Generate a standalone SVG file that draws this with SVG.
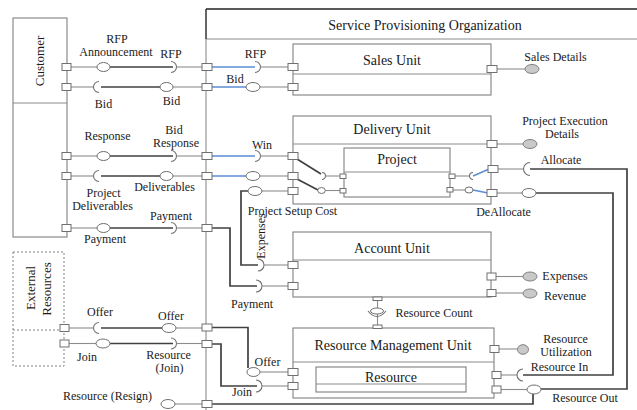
<svg xmlns="http://www.w3.org/2000/svg" width="637" height="410" viewBox="0 0 637 410" font-family="'Liberation Serif', 'Times New Roman', serif">
<defs>
<style>
.bx{fill:#fff;stroke:#808080;stroke-width:1.1}
.ln{fill:none;stroke:#8c8c8c;stroke-width:1.1}
.dk{fill:none;stroke:#404040;stroke-width:1.7}
.bl{fill:none;stroke:#5b8dd4;stroke-width:1.4}
.pt{fill:#fff;stroke:#707070;stroke-width:1}
.ball{fill:#fff;stroke:#707070;stroke-width:1}
.gb{fill:#c9c9c9;stroke:#808080;stroke-width:1}
.sk{fill:none;stroke:#707070;stroke-width:1.1}
.dash{fill:#fff;stroke:#808080;stroke-width:1;stroke-dasharray:2 2}
text{font-family:'Liberation Serif','Times New Roman',serif;fill:#1a1a1a}
.lb{font-size:12px;text-anchor:middle}
.un{font-size:14px;text-anchor:middle}
</style>
</defs>

<g id="organization">
<line x1="206" y1="9" x2="637" y2="9" stroke="#222" stroke-width="1.5"/>
<line x1="206" y1="39" x2="637" y2="39" class="ln"/>
<line x1="206" y1="9" x2="206" y2="39" stroke="#333" stroke-width="1.5"/>
<line x1="206" y1="39" x2="206" y2="410" class="ln"/>
<text x="425" y="30" class="un">Service Provisioning Organization</text>
</g>

<g id="customer">
<rect x="13" y="18" width="54" height="219" class="bx"/>
<line x1="13" y1="103" x2="67" y2="103" class="ln"/>
<text transform="translate(44,61) rotate(-90)" font-size="13" text-anchor="middle">Customer</text>
</g>

<g id="external-resources">
<rect x="13" y="252" width="51" height="114" class="dash"/>
<line x1="13" y1="330" x2="64" y2="330" class="dash"/>
<text transform="translate(35,288) rotate(-90)" font-size="13" text-anchor="middle">External</text>
<text transform="translate(51,289) rotate(-90)" font-size="13" text-anchor="middle">Resources</text>
</g>

<g id="sales-unit">
<rect x="293" y="44" width="198" height="51" class="bx"/>
<line x1="293" y1="74" x2="491" y2="74" class="ln"/>
<text x="392" y="65" class="un">Sales Unit</text>
</g>

<g id="delivery-unit">
<rect x="293" y="116" width="198" height="88" class="bx"/>
<line x1="293" y1="144" x2="491" y2="144" class="ln"/>
<text x="392" y="134" class="un">Delivery Unit</text>
</g>

<g id="project">
<rect x="344" y="148" width="106" height="49" class="bx"/>
<line x1="344" y1="172" x2="450" y2="172" class="ln"/>
<text x="397" y="164" class="un">Project</text>
</g>

<g id="account-unit">
<rect x="293" y="232" width="198" height="65" class="bx"/>
<line x1="293" y1="260" x2="491" y2="260" class="ln"/>
<text x="392" y="253" class="un">Account Unit</text>
</g>

<g id="resource-management-unit">
<rect x="293" y="328" width="201" height="70" class="bx"/>
<line x1="293" y1="362" x2="494" y2="362" class="ln"/>
<text x="393" y="350" class="un">Resource Management Unit</text>
</g>

<g id="resource">
<rect x="316" y="367" width="150" height="25" class="bx"/>
<line x1="316" y1="384" x2="466" y2="384" class="ln"/>
<text x="391" y="382" class="un">Resource</text>
</g>

<g id="connectors">
<line x1="71" y1="67" x2="97" y2="67" class="ln"/>
<line x1="110" y1="67" x2="173" y2="67" class="dk"/>
<path d="M171,61.5 A5.5,5.5 0 0 1 171,72.5" class="sk"/>
<line x1="176.5" y1="67" x2="202" y2="67" class="ln"/>
<line x1="212" y1="67" x2="255" y2="67" class="bl"/>
<path d="M255,61.5 A5.5,5.5 0 0 1 255,72.5" class="sk"/>
<line x1="260.5" y1="67" x2="288" y2="67" class="ln"/>
<line x1="71" y1="87" x2="93.5" y2="87" class="ln"/>
<path d="M99,81.5 A5.5,5.5 0 0 0 99,92.5" class="sk"/>
<line x1="101" y1="87" x2="160" y2="87" class="dk"/>
<line x1="173" y1="87" x2="202" y2="87" class="ln"/>
<line x1="212" y1="87" x2="246" y2="87" class="bl"/>
<line x1="260" y1="87" x2="288" y2="87" class="ln"/>
<line x1="71" y1="156" x2="97" y2="156" class="ln"/>
<line x1="110" y1="156" x2="173" y2="156" class="dk"/>
<path d="M171,150.5 A5.5,5.5 0 0 1 171,161.5" class="sk"/>
<line x1="176.5" y1="156" x2="202" y2="156" class="ln"/>
<line x1="212" y1="156" x2="255" y2="156" class="bl"/>
<path d="M255,150.5 A5.5,5.5 0 0 1 255,161.5" class="sk"/>
<line x1="260.5" y1="156" x2="288" y2="156" class="ln"/>
<line x1="71" y1="176" x2="93.5" y2="176" class="ln"/>
<path d="M99,170.5 A5.5,5.5 0 0 0 99,181.5" class="sk"/>
<line x1="101" y1="176" x2="160" y2="176" class="dk"/>
<line x1="173" y1="176" x2="202" y2="176" class="ln"/>
<line x1="212" y1="176" x2="246" y2="176" class="bl"/>
<line x1="260" y1="176" x2="288" y2="176" class="ln"/>
<line x1="71" y1="228" x2="97" y2="228" class="ln"/>
<line x1="110" y1="228" x2="173" y2="228" class="dk"/>
<path d="M171,222.5 A5.5,5.5 0 0 1 171,233.5" class="sk"/>
<line x1="176.5" y1="228" x2="202" y2="228" class="ln"/>
<polyline points="212,228 230,228 230,286 257,286" class="dk"/>
<path d="M256,280 A6,6 0 0 1 256,292" class="sk"/>
<line x1="262" y1="286" x2="288" y2="286" class="ln"/>
<polyline points="248,191 241,191 241,265 258,265" class="dk"/>
<path d="M258,259 A6,6 0 0 1 258,271" class="sk"/>
<line x1="264" y1="265" x2="288" y2="265" class="ln"/>
<line x1="262" y1="191" x2="288" y2="191" class="ln"/>
<line x1="297" y1="159" x2="321" y2="174" class="dk"/>
<path d="M322,172.5 A3.5,3.5 0 0 1 322,179.5" class="sk"/>
<line x1="325.5" y1="176" x2="340" y2="176" class="ln"/>
<line x1="297" y1="179" x2="318" y2="190" class="dk"/>
<line x1="325" y1="190.5" x2="340" y2="190.5" class="ln"/>
<line x1="455" y1="176" x2="469" y2="176" class="ln"/>
<path d="M473,172.5 A3.5,3.5 0 0 0 473,179.5" class="sk"/>
<line x1="473" y1="176" x2="488" y2="169.5" class="bl"/>
<line x1="453" y1="190" x2="465" y2="190" class="ln"/>
<line x1="473" y1="190" x2="488" y2="193" class="bl"/>
<line x1="497" y1="69" x2="525" y2="69" class="ln"/>
<line x1="497" y1="144" x2="523" y2="144" class="ln"/>
<line x1="497" y1="169" x2="524" y2="169" class="ln"/>
<path d="M530,162.5 A6.5,6.5 0 0 0 530,175.5" class="sk"/>
<polyline points="530,169 627,169 627,389 541,389" class="dk"/>
<line x1="497" y1="193" x2="522" y2="193" class="ln"/>
<polyline points="536,193 613,193 613,375 523,375" class="dk"/>
<line x1="496" y1="276.5" x2="523" y2="276.5" class="ln"/>
<line x1="496" y1="293" x2="523" y2="293" class="ln"/>
<line x1="377.5" y1="300" x2="377.5" y2="308" class="ln"/>
<line x1="377.5" y1="314" x2="377.5" y2="325" class="ln"/>
<line x1="499" y1="349" x2="517.5" y2="349" class="ln"/>
<line x1="501" y1="375" x2="517" y2="375" class="ln"/>
<path d="M523,369 A6,6 0 0 0 523,381" class="sk"/>
<line x1="501" y1="389.5" x2="527" y2="389.5" class="ln"/>
<polyline points="533,394 533,404 212,404" class="dk"/>
<line x1="175" y1="404" x2="202" y2="404" class="ln"/>
<line x1="69" y1="328" x2="93.5" y2="328" class="ln"/>
<path d="M99,322.5 A5.5,5.5 0 0 0 99,333.5" class="sk"/>
<line x1="101" y1="328" x2="162" y2="328" class="dk"/>
<line x1="176" y1="328" x2="202" y2="328" class="ln"/>
<polyline points="212,327.5 248,327.5 248,368" class="dk"/>
<line x1="260" y1="372" x2="288" y2="372" class="ln"/>
<line x1="69" y1="343.5" x2="96" y2="343.5" class="ln"/>
<line x1="110" y1="343.5" x2="173" y2="343.5" class="dk"/>
<path d="M171,338 A5.5,5.5 0 0 1 171,349" class="sk"/>
<line x1="176.5" y1="343.5" x2="202" y2="343.5" class="ln"/>
<polyline points="212,344 221,344 221,386 257,386" class="dk"/>
<path d="M256,380 A6,6 0 0 1 256,392" class="sk"/>
<line x1="262" y1="386" x2="288" y2="386" class="ln"/>
</g>

<g id="interfaces">
<ellipse cx="103.5" cy="67" rx="6.5" ry="4.5" class="ball"/>
<ellipse cx="166.5" cy="87" rx="6.5" ry="4.5" class="ball"/>
<ellipse cx="253" cy="87" rx="7" ry="4.5" class="ball"/>
<ellipse cx="103.5" cy="156" rx="6.5" ry="4.5" class="ball"/>
<ellipse cx="166.5" cy="176" rx="6.5" ry="4.5" class="ball"/>
<ellipse cx="253" cy="176" rx="7" ry="4.5" class="ball"/>
<ellipse cx="103.5" cy="228" rx="6.5" ry="4.5" class="ball"/>
<ellipse cx="255" cy="191" rx="7" ry="4.5" class="ball"/>
<ellipse cx="321.5" cy="190.5" rx="3.8" ry="3" class="ball"/>
<ellipse cx="469" cy="190" rx="4" ry="3" class="ball"/>
<ellipse cx="529" cy="193" rx="7" ry="4.5" class="ball"/>
<ellipse cx="534" cy="389.5" rx="7" ry="4.5" class="ball"/>
<ellipse cx="168" cy="404" rx="7" ry="4.5" class="ball"/>
<ellipse cx="169" cy="328" rx="7" ry="4.5" class="ball"/>
<ellipse cx="103" cy="343.5" rx="7" ry="4.5" class="ball"/>
<ellipse cx="253.5" cy="372" rx="6.5" ry="4.5" class="ball"/>
<ellipse cx="377" cy="311" rx="6.5" ry="3" class="ball"/>
<path d="M368,311 Q377,322 386,311" class="sk"/>
<ellipse cx="532" cy="69" rx="7" ry="4.5" class="gb"/>
<ellipse cx="530" cy="144" rx="7" ry="4.5" class="gb"/>
<ellipse cx="530" cy="276.5" rx="7" ry="4.5" class="gb"/>
<ellipse cx="530" cy="293.5" rx="7" ry="4.5" class="gb"/>
<ellipse cx="523" cy="349.5" rx="5.5" ry="4.8" class="gb"/>
</g>

<g id="ports">
<rect x="62" y="63.5" width="9" height="7" class="pt"/>
<rect x="62" y="83.5" width="9" height="7" class="pt"/>
<rect x="62" y="152.5" width="9" height="7" class="pt"/>
<rect x="62" y="172.5" width="9" height="7" class="pt"/>
<rect x="62" y="224.5" width="9" height="7" class="pt"/>
<rect x="60" y="324.5" width="9" height="7" class="pt"/>
<rect x="60" y="340" width="9" height="7" class="pt"/>
<rect x="202" y="63.5" width="10" height="7" class="pt"/>
<rect x="202" y="83.5" width="10" height="7" class="pt"/>
<rect x="202" y="152.5" width="10" height="7" class="pt"/>
<rect x="202" y="172.5" width="10" height="7" class="pt"/>
<rect x="202" y="224.5" width="10" height="7" class="pt"/>
<rect x="202" y="324" width="10" height="7" class="pt"/>
<rect x="202" y="340.5" width="10" height="7" class="pt"/>
<rect x="202" y="400.5" width="10" height="7" class="pt"/>
<rect x="288" y="63.5" width="10" height="7" class="pt"/>
<rect x="288" y="83.5" width="10" height="7" class="pt"/>
<rect x="288" y="152.5" width="10" height="7" class="pt"/>
<rect x="288" y="172.5" width="10" height="7" class="pt"/>
<rect x="288" y="187.5" width="10" height="7" class="pt"/>
<rect x="288" y="261.5" width="10" height="7" class="pt"/>
<rect x="288" y="282.5" width="10" height="7" class="pt"/>
<rect x="288" y="368.5" width="10" height="7" class="pt"/>
<rect x="288" y="382.5" width="10" height="7" class="pt"/>
<rect x="340" y="174" width="6" height="4.5" class="pt"/>
<rect x="340" y="188.5" width="6" height="4.5" class="pt"/>
<rect x="449" y="174" width="6" height="4.5" class="pt"/>
<rect x="447" y="187.5" width="6" height="4.5" class="pt"/>
<rect x="487" y="65.5" width="10" height="7" class="pt"/>
<rect x="487" y="140.5" width="10" height="7" class="pt"/>
<rect x="488" y="165.5" width="10" height="7" class="pt"/>
<rect x="487" y="189.5" width="10" height="7" class="pt"/>
<rect x="487" y="273" width="9" height="7" class="pt"/>
<rect x="487" y="289.5" width="9" height="7" class="pt"/>
<rect x="490" y="345.5" width="9" height="7" class="pt"/>
<rect x="492" y="371.5" width="9" height="7" class="pt"/>
<rect x="492" y="386" width="9" height="7" class="pt"/>
<rect x="373" y="297" width="9" height="3.5" class="pt"/>
<rect x="373" y="325" width="9" height="3.5" class="pt"/>
</g>

<g id="labels">
<text x="117" y="43" class="lb">RFP</text>
<text x="116" y="56" class="lb">Announcement</text>
<text x="171" y="58" class="lb">RFP</text>
<text x="103.5" y="108" class="lb">Bid</text>
<text x="171.5" y="105" class="lb">Bid</text>
<text x="255.5" y="58" class="lb">RFP</text>
<text x="235" y="83" class="lb">Bid</text>
<text x="555.5" y="61" class="lb">Sales Details</text>
<text x="565" y="125" class="lb">Project Execution</text>
<text x="562" y="138" class="lb">Details</text>
<text x="561" y="164" class="lb">Allocate</text>
<text x="503.5" y="216" class="lb">DeAllocate</text>
<text x="262" y="149" class="lb">Win</text>
<text x="292.5" y="215" class="lb">Project Setup Cost</text>
<text transform="translate(265,236) rotate(-90)" class="lb">Expenses</text>
<text x="252" y="308" class="lb">Payment</text>
<text x="434" y="317" class="lb">Resource Count</text>
<text x="267.5" y="366" class="lb">Offer</text>
<text x="242" y="396" class="lb">Join</text>
<text x="565" y="280" class="lb">Expenses</text>
<text x="565" y="300" class="lb">Revenue</text>
<text x="565.5" y="343" class="lb">Resource</text>
<text x="566" y="356" class="lb">Utilization</text>
<text x="559.5" y="371" class="lb">Resource In</text>
<text x="585" y="402" class="lb">Resource Out</text>
<text x="107.5" y="400" class="lb">Resource (Resign)</text>
<text x="100" y="316" class="lb">Offer</text>
<text x="171" y="320" class="lb">Offer</text>
<text x="87" y="361" class="lb">Join</text>
<text x="168.5" y="359" class="lb">Resource</text>
<text x="169.5" y="372" class="lb">(Join)</text>
<text x="107.5" y="140" class="lb">Response</text>
<text x="174" y="134" class="lb">Bid</text>
<text x="176" y="147" class="lb">Response</text>
<text x="164.5" y="191" class="lb">Deliverables</text>
<text x="103.5" y="197" class="lb">Project</text>
<text x="102.5" y="210" class="lb">Deliverables</text>
<text x="171" y="220" class="lb">Payment</text>
<text x="105" y="243" class="lb">Payment</text>
</g>
</svg>
